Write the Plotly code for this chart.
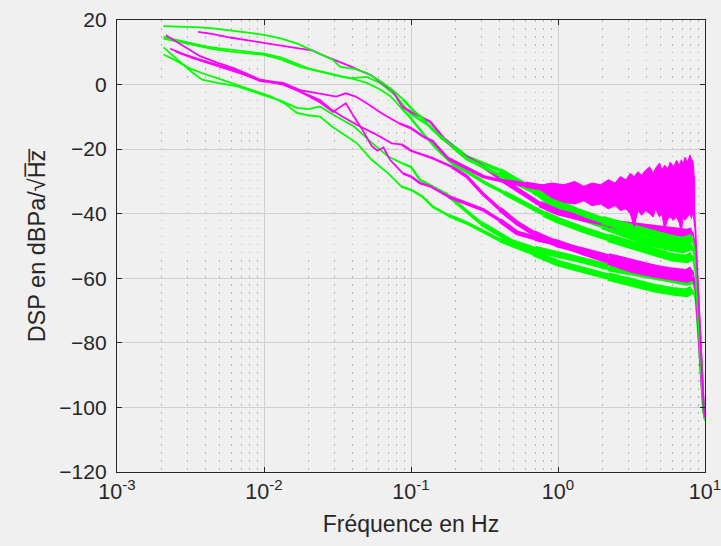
import plotly.graph_objects as go

GREEN = "#00ff00"
MAGENTA = "#ff00ff"

# ---------------- data (f in Hz, PSD in dB) ----------------
G1_f = [2.07e-3, 2.6e-3, 3.2e-3, 3.67e-3, 4.5e-3, 6e-3, 8e-3, 1e-2, 1.3e-2, 1.7e-2, 2.15e-2, 2.5e-2,
        2.95e-2, 3.3e-2, 4.2e-2, 5e-2, 6e-2, 7.5e-2, 8.8e-2, 0.103, 0.12, 0.14, 0.19, 0.24, 0.31, 0.4,
        0.52, 0.68, 1.0, 1.4, 2.0, 2.8, 4.0, 5.5, 7.0, 8.2, 8.6, 9.0, 9.4, 9.7, 10.0]
G1_db = [18.1, 18.0, 17.8, 17.7, 17.4, 16.8, 16.0, 15.4, 14.3, 12.6, 10.5, 9.2,
         7.6, 5.5, 4.8, 3.6, 1.5, -1.7, -4.5, -7.9, -10.5, -14, -19, -23, -25.5, -28,
         -30.5, -33, -36.5, -39.5, -42, -44, -46, -47.5, -48.5, -47.5, -52, -68, -85, -97, -103]

G2_f = [2.07e-3, 2.6e-3, 3.2e-3, 3.67e-3, 4.5e-3, 6e-3, 8e-3, 1e-2, 1.3e-2, 1.76e-2, 2.4e-2, 2.95e-2,
        3.5e-2, 4.0e-2, 5.0e-2, 6.2e-2, 8.0e-2, 9.8e-2, 0.115, 0.135, 0.158, 0.2, 0.24, 0.31, 0.4,
        0.52, 0.68, 1.0, 1.4, 2.0, 2.8, 4.0, 5.5, 7.0, 8.2, 8.6, 9.0, 9.4, 9.7, 10.0]
G2_db = [14.2, 13.2, 12.3, 11.7, 11.0, 10.2, 9.6, 9.2, 7.8, 5.5, 4.0, 3.0,
         2.2, 2.0, 2.4, 0.4, -3.7, -8.9, -11.0, -13.0, -16.2, -19.5, -22.4, -24.5, -26.5,
         -29.5, -32.5, -38.5, -41, -43.5, -46, -48.5, -50, -51, -50, -55, -72, -88, -99, -104]

G5_f = [2.07e-3, 2.6e-3, 3.2e-3, 4e-3, 5e-3, 6.5e-3, 8e-3, 1e-2, 1.3e-2, 1.6e-2, 2e-2, 2.6e-2,
        3.3e-2, 4e-2, 5e-2, 6e-2, 7.2e-2, 8.5e-2, 0.1, 0.12, 0.15, 0.19, 0.24, 0.32, 0.43, 0.6,
        0.8, 1.0, 1.5, 2.2, 3.2, 4.5, 6.0, 7.5, 8.2, 8.6, 9.0, 9.4, 9.8, 10.0]
G5_db = [14.8, 13.8, 12.8, 11.8, 11.2, 10.6, 10.0, 9.6, 8.4, 6.8, 5.0, 3.8,
         2.8, 1.8, 0.5, -1.2, -3.5, -7.0, -10.5, -15, -20, -24.5, -27, -30.5, -33.5, -37,
         -40, -42, -45, -47.5, -50, -52, -53.5, -54, -53, -58, -72, -88, -100, -104]

G3_f = [2.07e-3, 2.4e-3, 2.8e-3, 3.3e-3, 3.8e-3, 4.8e-3, 6.5e-3, 8e-3, 1.05e-2, 1.3e-2, 1.67e-2, 2.0e-2,
        2.4e-2, 3.1e-2, 4.1e-2, 5.4e-2, 7e-2, 8.8e-2, 0.1, 0.115, 0.14, 0.17, 0.22, 0.3, 0.48, 0.7,
        1.0, 1.5, 2.2, 3.2, 4.5, 6.0, 7.5, 8.2, 8.6, 9.0, 9.4, 9.7, 10.0]
G3_db = [11.5, 9.0, 6.2, 3.5, 1.5, 0.5, -0.5, -1.8, -3.6, -5.0, -7.2, -7.6,
         -6.8, -9.9, -13, -18, -22.3, -24.5, -25.5, -29.5, -31.5, -33.6, -38, -43, -48.5, -51,
         -52.5, -54.5, -56.5, -58, -59.5, -60.5, -61, -60.5, -64, -76, -91, -101, -104]

G4_f = [2.07e-3, 2.5e-3, 3.1e-3, 3.8e-3, 4.8e-3, 6e-3, 8e-3, 1.1e-2, 1.4e-2, 1.67e-2, 2.0e-2, 2.4e-2,
        2.9e-2, 3.5e-2, 4.3e-2, 5.4e-2, 7e-2, 8.6e-2, 0.1, 0.12, 0.141, 0.18, 0.24, 0.4, 0.68, 1.0,
        1.5, 2.2, 3.2, 4.5, 6.0, 7.5, 8.2, 8.6, 9.0, 9.4, 9.7, 10.0]
G4_db = [9.3, 7.5, 5.1, 3.5, 2.0, 0.5, -1.6, -3.6, -6.0, -8.8, -9.5, -9.9,
         -13, -15.5, -18.2, -23.3, -27.5, -31.6, -32.6, -34.7, -37.9, -40.5, -42.9, -48.1, -52.2, -55.3,
         -57.5, -59.5, -61.5, -63, -64, -64.5, -63.5, -66, -78, -92, -101, -104]

Ma_f = [3.56e-3, 4.5e-3, 6e-3, 8e-3, 1e-2, 1.3e-2, 1.7e-2, 2.15e-2, 2.6e-2, 3.2e-2, 3.8e-2, 4.5e-2,
        5.3e-2, 6.3e-2, 7.5e-2, 8.7e-2, 0.1, 0.115, 0.135, 0.17, 0.22, 0.3, 0.4, 0.55, 0.75, 1.0,
        1.5, 2.2, 3.2, 4.5, 6.0, 7.5, 8.2, 8.6, 9.0, 9.4, 9.8, 10.0]
Ma_db = [16.3, 15.6, 14.5, 13.6, 12.9, 12.0, 11.2, 10.5, 8.8, 7.2, 5.8, 4.3,
         3.0, 0.5, -2.0, -6.8, -8.5, -9.9, -11.5, -17, -21.5, -25, -29, -33, -37, -39.5,
         -41.5, -43, -44, -45, -45.5, -46, -45.5, -50, -65, -84, -98, -103]

Mb_f = [2.15e-3, 2.5e-3, 2.8e-3, 3.2e-3, 3.67e-3, 4.8e-3, 6.2e-3, 7.8e-3, 9.4e-3, 1.15e-2, 1.35e-2, 1.76e-2,
        2.4e-2, 3.1e-2, 3.6e-2, 4.2e-2, 5e-2, 6.3e-2, 8.3e-2, 0.1, 0.12, 0.14, 0.18, 0.24, 0.31, 0.43,
        0.6, 1.0, 1.5, 2.2, 3.2, 4.5, 6.0, 7.5, 8.3, 8.6, 9.0, 9.4, 9.8, 10.0]
Mb_db = [15.3, 13.5, 11.9, 10.3, 8.8, 6.8, 5.1, 3.2, 1.5, 0.9, 0.5, -1.7,
         -2.7, -3.7, -2.7, -3.7, -5.8, -8.9, -12, -13.5, -16, -17.5, -23, -26, -28.5, -30,
         -31, -32.6, -34, -33.5, -33, -32, -31, -31, -33, -45, -65, -85, -100, -103]

# noisy envelope of the upper magenta spectrum above ~1 Hz
Mb_band_f = [0.7, 0.9, 1.1, 1.3, 1.5, 1.7, 1.95, 2.2, 2.45, 2.65, 2.9, 3.1, 3.3, 3.5, 3.7, 3.95, 4.2,
             4.45, 4.6, 4.9, 5.1, 5.3, 5.6, 5.8, 6.1, 6.4, 6.7, 6.9, 7.1, 7.3, 7.6, 7.9, 8.1, 8.3, 8.5]
Mb_band_hi = [-31.5, -30.5, -31, -30, -31.5, -30.5, -31, -29.5, -30.5, -28.5, -29.5, -27.5, -28.5, -27,
              -28, -26.5, -25.5, -27.5, -26, -24.3, -26.5, -25, -26, -24, -25.5, -23.5, -25, -23.3,
              -24.5, -22.5, -24, -21.8, -23, -24, -30]
Mb_band_lo = [-31.5, -35, -36.5, -37, -36, -37.5, -37, -38.5, -37.5, -39, -38.5, -40, -44, -39, -40.5,
              -39, -40, -41, -38.5, -41, -40, -45, -41.5, -41, -42, -41, -43, -46, -41, -42, -41, -40,
              -41.5, -39, -44]

Mc_f = [2.3e-3, 2.8e-3, 3.67e-3, 4.8e-3, 6.2e-3, 7.8e-3, 9.4e-3, 1.15e-2, 1.35e-2, 1.76e-2, 2.4e-2, 2.9e-2,
        3.4e-2, 4.5e-2, 5.6e-2, 7.4e-2, 8.6e-2, 0.1, 0.14, 0.19, 0.24, 0.31, 0.4, 0.53, 0.68, 1.0,
        1.5, 2.2, 3.2, 4.5, 6.0, 7.5, 8.2, 8.6, 9.0, 9.4, 9.8, 10.0]
Mc_db = [11.1, 9.5, 7.7, 6.0, 4.6, 2.8, 1.1, 0.6, 0.3, -2.2, -4.8, -7.9,
         -9.9, -13, -15.1, -18.2, -18.5, -20.5, -22.8, -25.5, -28.5, -34, -38.5, -43, -46, -49.5,
         -51.5, -53.5, -55.5, -57, -58, -58.5, -57.5, -62, -75, -90, -101, -104]

Md_f = [2.5e-3, 3.2e-3, 4.2e-3, 5.5e-3, 7e-3, 9e-3, 1.15e-2, 1.35e-2, 1.76e-2, 2.4e-2, 2.95e-2, 3.3e-2,
        3.6e-2, 4.1e-2, 4.6e-2, 5.4e-2, 5.9e-2, 6.5e-2, 7.2e-2, 8.8e-2, 0.1, 0.115, 0.135, 0.18, 0.24, 0.31,
        0.4, 0.53, 0.7, 1.0, 1.5, 2.2, 3.2, 4.5, 6.0, 7.5, 8.2, 8.6, 9.0, 9.4, 9.8, 10.0]
Md_db = [10.3, 8.3, 6.6, 5.0, 3.4, 1.6, 0.6, 0.0, -2.2, -5.5, -8.5, -7.0,
         -5.8, -10, -13.5, -19, -20.5, -19.5, -23.3, -27.5, -28.5, -30.5, -31.5, -34.7, -37, -38.8,
         -42, -46, -47.5, -49, -52, -54.5, -57, -58.5, -59.5, -60, -59.5, -63, -76, -91, -101, -103]

x_tickvals = [1e-3, 1e-2, 1e-1, 1e0, 1e1]
x_ticktext = ["10<sup>-3</sup>", "10<sup>-2</sup>", "10<sup>-1</sup>", "10<sup>0</sup>", "10<sup>1</sup>"]
y_tickvals = [-120, -100, -80, -60, -40, -20, 0, 20]

# drawing order (bottom to top) and colours
curves = [
    (G4_f, G4_db, GREEN), (G3_f, G3_db, GREEN), (Md_f, Md_db, MAGENTA), (Mc_f, Mc_db, MAGENTA),
    (G5_f, G5_db, GREEN), (G2_f, G2_db, GREEN), (Ma_f, Ma_db, MAGENTA), (G1_f, G1_db, GREEN),
    (Mb_f, Mb_db, MAGENTA),
]

# the spectra get noisier (thicker traces) towards high frequencies
seg_edges = [0.0, 0.1, 0.2, 0.45, 1.0, 2.5, 8.25, 100.0]
seg_widths = [1.8, 2.4, 3.4, 4.8, 6.5, 8.5, 1.8]

fig = go.Figure()

for fs, ds, col in curves:
    for k in range(len(seg_widths)):
        lo, hi = seg_edges[k], seg_edges[k + 1]
        idx = [i for i, f in enumerate(fs) if lo <= f < hi]
        if not idx:
            continue
        s = max(idx[0] - 1, 0)
        e = idx[-1]
        fig.add_trace(go.Scatter(
            x=fs[s:e + 1], y=ds[s:e + 1], mode="lines",
            line=dict(color=col, width=seg_widths[k]),
            hoverinfo="skip", showlegend=False))

fig.add_trace(go.Scatter(
    x=Mb_band_f + Mb_band_f[::-1], y=Mb_band_hi + Mb_band_lo[::-1],
    fill="toself", fillcolor=MAGENTA, mode="lines", line=dict(color=MAGENTA, width=1),
    hoverinfo="skip", showlegend=False))

AX = "#262626"
FONT = "Liberation Sans, Arial, sans-serif"

fig.update_layout(
    width=721, height=546,
    margin=dict(l=117, r=16, t=20, b=74, autoexpand=False),
    paper_bgcolor="#f0f0f0", plot_bgcolor="#f0f0f0",
    font=dict(family=FONT, size=21, color=AX),
    showlegend=False,
)
fig.update_xaxes(
    type="log", range=[-3, 1], automargin=False,
    tickvals=x_tickvals, ticktext=x_ticktext,
    tickfont=dict(size=21.5), ticklabeloverflow="allow",
    ticks="inside", ticklen=5, tickcolor=AX, tickwidth=1,
    showline=True, linecolor=AX, linewidth=1.3, mirror="ticks",
    showgrid=True, gridcolor="#cfcfcf", gridwidth=1,
    minor=dict(dtick="D1", showgrid=True, gridcolor="#b0b0b0", griddash="1.5px,6.5px", gridwidth=1, ticks=""),
    title=dict(text="Fréquence en Hz", font=dict(size=23, color=AX), standoff=12),
    zeroline=False,
)
fig.update_yaxes(
    range=[-120, 20], tickvals=y_tickvals, automargin=False,
    tickfont=dict(size=21), ticklabeloverflow="allow",
    ticks="inside", ticklen=5, tickcolor=AX, tickwidth=1,
    showline=True, linecolor=AX, linewidth=1.3, mirror="ticks",
    showgrid=True, gridcolor="#cfcfcf", gridwidth=1,
    title=dict(text="DSP en dBPa/√H̅z̅", font=dict(size=23.5, color=AX), standoff=7),
    ticklabelstandoff=5,
    zeroline=False,
)

fig.write_html("out.html")
